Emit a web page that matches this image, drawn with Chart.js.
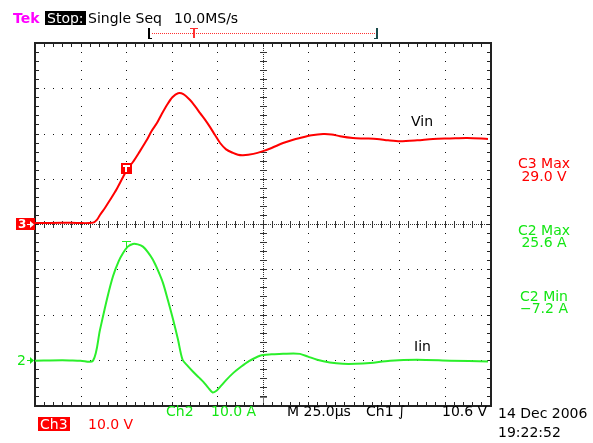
<!DOCTYPE html>
<html>
<head>
<meta charset="utf-8">
<script src="https://cdn.jsdelivr.net/npm/chart.js@4.4.1/dist/chart.umd.min.js"></script>
<style>
  html, body { margin: 0; padding: 0; background: #fff; }
  #wrap { position: relative; width: 593px; height: 443px; overflow: hidden; background: #fff; }
  #c { position: absolute; left: 0; top: 0; }
  .t { position: absolute; font-family: "DejaVu Sans", sans-serif; font-size: 14px; line-height: 14px; white-space: pre; }
  .red { color: #ff0000; }
  .grn { color: #14e614; }
  .blk { color: #000; }
  .ctr { transform: translateX(-50%); text-align: center; }
</style>
</head>
<body>
<div id="wrap">
  <canvas id="c" width="593" height="443"></canvas>

  <div class="t" style="left:13px;top:11px;color:#ff00ff;font-weight:bold;">Tek</div>
  <div class="t" style="left:45px;top:11px;background:#000;color:#fff;padding:0 2px;">Stop:</div>
  <div class="t blk" style="left:88px;top:11px;">Single Seq</div>
  <div class="t blk" style="left:174px;top:11px;">10.0MS/s</div>

  <div class="t blk" style="left:411px;top:114px;">Vin</div>
  <div class="t blk" style="left:414px;top:339px;">Iin</div>

  <div class="t red ctr" style="left:544px;top:156px;">C3 Max</div>
  <div class="t red ctr" style="left:544px;top:169px;">29.0 V</div>
  <div class="t grn ctr" style="left:544px;top:223px;">C2 Max</div>
  <div class="t grn ctr" style="left:544px;top:235px;">25.6 A</div>
  <div class="t grn ctr" style="left:544px;top:289px;">C2 Min</div>
  <div class="t grn ctr" style="left:544px;top:301px;">−7.2 A</div>

  <div class="t grn" style="left:166px;top:404px;">Ch2</div>
  <div class="t grn" style="left:211px;top:404px;">10.0 A</div>
  <div class="t blk" style="left:287px;top:404px;">M 25.0µs</div>
  <div class="t blk" style="left:366px;top:404px;">Ch1 ∫</div>
  <div class="t blk" style="left:442px;top:404px;">10.6 V</div>
  <div class="t blk" style="left:498px;top:406px;">14 Dec 2006</div>
  <div class="t blk" style="left:498px;top:425px;">19:22:52</div>

  <div class="t" style="left:38px;top:417px;background:#ff0000;color:#fff;padding:0 2px;">Ch3</div>
  <div class="t red" style="left:88px;top:417px;">10.0 V</div>
</div>

<script>
// ---- data (time in µs relative to trigger) ----
const vinTimes = [-50, -35, -25, -18.1, -16, -14.3, -11.5, -8.8, -5, -1.6, 1, 3.8, 7.5, 11.5, 14, 17, 19.5, 22.5, 25.5, 28.6, 31.5, 35.2, 38, 40.7, 43.5, 46.2, 49, 51.7, 55, 58.8, 61.5, 64.3, 70, 75.3, 80, 86.3, 91, 95.6, 102, 108.3, 113, 117.6, 124.7, 131, 137.9, 144, 150.6, 160, 168.7, 178, 187.4, 198.9];
const vinVolts = [0.2, 0.3, 0.2, 0.3, 0.9, 2.0, 3.6, 5.3, 7.8, 10.4, 12.3, 13.7, 16.0, 18.6, 20.5, 22.3, 24.2, 26.3, 28.0, 28.9, 28.7, 27.4, 26.0, 24.5, 23.0, 21.4, 19.6, 17.9, 16.5, 15.7, 15.3, 15.2, 15.5, 16.1, 16.8, 17.9, 18.5, 19.0, 19.6, 19.9, 19.8, 19.4, 19.0, 18.9, 18.8, 18.5, 18.3, 18.5, 18.8, 18.9, 19.0, 18.8];

const iinTimes = [-50, -35, -25, -18.1, -14.3, -10.4, -7.1, -4.0, -1.6, 1.0, 3.8, 6.5, 9.3, 12, 14.8, 17.5, 20.3, 23, 25.8, 28.5, 31.1, 34, 37, 40, 42.5, 45, 47.5, 49.5, 51.7, 55, 59, 63, 67.2, 73.6, 80, 86.3, 92, 95.6, 100, 105, 112, 119.2, 126, 134.1, 145.1, 159.9, 178, 198.9];
const iinAmps  = [-0.2, -0.1, -0.2, -0.2, 6.6, 13.5, 18.5, 21.8, 23.6, 25.0, 25.6, 25.5, 25.0, 23.8, 22.1, 19.8, 17.0, 13.2, 9.0, 4.6, 0.0, -1.4, -2.7, -3.9, -4.9, -6.1, -7.2, -6.9, -6.0, -4.5, -2.9, -1.6, -0.4, 0.9, 1.2, 1.3, 1.4, 1.3, 0.7, 0.0, -0.6, -0.9, -0.9, -0.7, -0.2, 0.0, -0.2, -0.4];

// scope settings
const timeRange = [-50, 200];      // 25 µs/div, 10 div
const timePerDiv = 25;
const vRange = [-40, 40];          // Ch3 10 V/div, ground at centre
const vPerDiv = 10;
const iRange = [-10, 70];          // Ch2 10 A/div, ground 3 div below centre
const triggerTime = 0;
const triggerMarkV = 12.4;
const iMarkerA = 26.3;

const graticule = {
  id: 'graticule',
  beforeDatasetsDraw(chart) {
    const { ctx, chartArea: a, scales: { x, y } } = chart;
    ctx.save();
    const L = Math.round(a.left), R = Math.round(a.right), T = Math.round(a.top), B = Math.round(a.bottom);
    const nx = (x.max - x.min) / timePerDiv, ny = (y.max - y.min) / vPerDiv;
    const dW = (R - L) / nx, dH = (B - T) / ny;
    const cx = Math.round(x.getPixelForValue((x.max + x.min) / 2));
    const cy = Math.round(y.getPixelForValue((y.max + y.min) / 2));
    ctx.fillStyle = '#111';
    for (let i = 1; i < nx; i++) {
      const px = Math.round(L + i * dW);
      if (px === cx) continue;
      for (let k = 1; k < ny * 5; k++) ctx.fillRect(px, Math.round(T + k * dH / 5), 1, 1);
    }
    for (let j = 1; j < ny; j++) {
      const py = Math.round(T + j * dH);
      if (py === cy) continue;
      for (let k = 1; k < nx * 5; k++) ctx.fillRect(Math.round(L + k * dW / 5), py, 1, 1);
    }
    ctx.fillStyle = '#333';
    for (let px = L + 1; px < R; px += 2) ctx.fillRect(px, cy, 1, 1);
    for (let py = T + 1; py < B; py += 2) ctx.fillRect(cx, py, 1, 1);
    for (let k = 1; k < nx * 5; k++) ctx.fillRect(Math.round(L + k * dW / 5), cy - 3, 1, 7);
    for (let k = 1; k < ny * 5; k++) ctx.fillRect(cx - 3, Math.round(T + k * dH / 5), 7, 1);
    ctx.fillStyle = '#222';
    ctx.fillRect(L - 1, T - 1, R - L + 3, 2);
    ctx.fillRect(L - 1, B, R - L + 3, 2);
    ctx.fillRect(L - 1, T - 1, 2, B - T + 3);
    ctx.fillRect(R, T - 1, 2, B - T + 3);
    for (let k = 1; k < nx * 5; k++) {
      const px = Math.round(L + k * dW / 5);
      ctx.fillRect(px, T, 1, 4);
      ctx.fillRect(px, B - 3, 1, 4);
    }
    for (let k = 1; k < ny * 5; k++) {
      const py = Math.round(T + k * dH / 5);
      ctx.fillRect(L, py, 4, 1);
      ctx.fillRect(R - 3, py, 4, 1);
    }
    ctx.fillStyle = '#777';
    ctx.fillRect(cx - 3, B - 8, 7, 1);
    ctx.fillRect(cx, B - 8, 1, 6);
    ctx.restore();
  },
  afterDatasetsDraw(chart) {
    const { ctx, scales: { x, y, y2 } } = chart;
    ctx.save();
    const tx = Math.round(x.getPixelForValue(triggerTime));
    const ty = Math.round(y.getPixelForValue(triggerMarkV));
    ctx.fillStyle = '#ff0000';
    ctx.fillRect(tx - 5, ty - 5, 11, 11);
    ctx.fillStyle = '#fff';
    ctx.fillRect(tx - 3, ty - 3, 7, 2);
    ctx.fillRect(tx - 1, ty - 3, 2, 7);
    const gy = Math.round(y2.getPixelForValue(iMarkerA));
    ctx.fillStyle = '#22ee22';
    ctx.fillRect(tx - 4, gy, 9, 1);
    ctx.fillRect(tx, gy, 1, 8);
    const g3 = Math.round(y.getPixelForValue(0));
    ctx.fillStyle = '#ff0000';
    ctx.fillRect(16, g3 - 6, 19, 12);
    ctx.fillStyle = '#fff';
    ctx.font = 'bold 12px "DejaVu Sans", sans-serif';
    ctx.textBaseline = 'middle';
    ctx.fillText('3', 18, g3 + 0.5);
    ctx.fillRect(27, g3, 6, 1);
    ctx.beginPath(); ctx.moveTo(34, g3 + 0.5); ctx.lineTo(30, g3 - 3); ctx.lineTo(30, g3 + 4); ctx.closePath(); ctx.fill();
    const g2 = Math.round(y2.getPixelForValue(0));
    ctx.fillStyle = '#14e614';
    ctx.font = '14px "DejaVu Sans", sans-serif';
    ctx.fillText('2', 17, g2 + 1);
    ctx.fillRect(27, g2, 6, 1);
    ctx.beginPath(); ctx.moveTo(34, g2 + 0.5); ctx.lineTo(30, g2 - 3); ctx.lineTo(30, g2 + 4); ctx.closePath(); ctx.fill();
    ctx.fillStyle = '#000';
    ctx.fillRect(148, 28, 2, 11);
    ctx.fillRect(148, 38, 4, 1);
    ctx.fillStyle = '#ff3030';
    for (let px = 152; px < 376; px += 2) ctx.fillRect(px, 33, 1, 1);
    ctx.fillRect(190, 28, 8, 1);
    ctx.fillRect(193, 28, 2, 10);
    ctx.fillStyle = '#1a4a4a';
    ctx.fillRect(376, 28, 2, 11);
    ctx.fillRect(374, 38, 3, 1);
    ctx.restore();
  }
};

const chart = new Chart(document.getElementById('c'), {
  type: 'line',
  data: {
    datasets: [
      {
        label: 'Vin',
        data: vinTimes.map((t, i) => ({ x: t, y: vinVolts[i] })),
        yAxisID: 'y',
        borderColor: '#ff0000',
        borderWidth: 2,
        pointRadius: 0,
        tension: 0.3,
        fill: false
      },
      {
        label: 'Iin',
        data: iinTimes.map((t, i) => ({ x: t, y: iinAmps[i] })),
        yAxisID: 'y2',
        borderColor: '#2bef2b',
        borderWidth: 2,
        pointRadius: 0,
        tension: 0.3,
        fill: false
      }
    ]
  },
  options: {
    responsive: false,
    animation: false,
    devicePixelRatio: 1,
    layout: { padding: { left: 35, top: 43, right: 103, bottom: 38 } },
    scales: {
      x: { type: 'linear', min: timeRange[0], max: timeRange[1], display: false },
      y: { type: 'linear', min: vRange[0], max: vRange[1], display: false },
      y2: { type: 'linear', min: iRange[0], max: iRange[1], display: false }
    },
    plugins: { legend: { display: false }, tooltip: { enabled: false } }
  },
  plugins: [graticule]
});
</script>
</body>
</html>
